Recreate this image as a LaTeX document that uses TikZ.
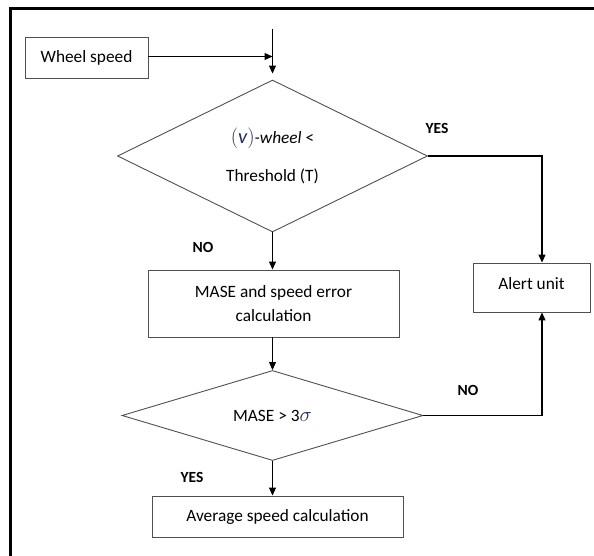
\documentclass[tikz,border=0pt]{standalone}
\usepackage{fontspec}
\setmainfont{Carlito}
\usepackage{xcolor}
\usetikzlibrary{arrows.meta,shapes.geometric}
\definecolor{edge}{HTML}{505050}
\definecolor{mathblue}{HTML}{1F2D5A}
\tikzset{
  >={Triangle[length=8pt,width=7pt]},
  flow/.style={->,black,line width=1.1pt},
  box/.style={draw=edge,line width=0.9pt,rectangle,inner sep=0pt,align=center,
    font=\fontsize{17.3}{24}\selectfont},
  test/.style={draw=edge,line width=0.9pt,diamond,inner sep=0pt,align=center,
    font=\fontsize{17.3}{24}\selectfont},
  answer/.style={font=\fontsize{15.5}{17}\selectfont\bfseries},
}
\newcommand{\mathbig}[1]{{\color{mathblue}\fontsize{20.5}{24}\selectfont$#1$}}
\newcommand{\vwheel}{\mathbig{(\mathit{v})}\textit{-wheel} <}
\begin{document}
\begin{tikzpicture}[x=1pt,y=-1pt]
\useasboundingbox (0,0) rectangle (594,556);
% frame, clipped at right and bottom
\draw[black,line width=2.4pt] (594,8.5) -- (10.5,8.5) -- (10.5,556);
\node[box,minimum width=123pt,minimum height=41pt] (wheel) at (86.5,58.3) {Wheel speed};
\coordinate (start) at (272.5,29);
\node[test,minimum width=310pt,minimum height=152pt] (thr) at (272.5,156)
  {\vwheel\\[14pt]Threshold (T)};
\node[box,minimum width=251pt,minimum height=67pt] (mase) at (273.5,303.5)
  {MASE and speed error\\calculation};
\node[test,minimum width=301pt,minimum height=87pt] (sig) at (272.5,415.5)
  {MASE > 3\mathbig{\sigma}};
\node[box,minimum width=251pt,minimum height=41pt] (avg) at (277.5,516.5)
  {Average speed calculation};
\node[box,minimum width=117pt,minimum height=49pt,text depth=9pt] (alert) at (531.5,287.5)
  {Alert unit};
\coordinate (rail) at (542,0);
% connectors
\draw[flow,shorten >=6pt] (start) -- (start |- thr.north);
\draw[flow] (wheel.east |- 0,56.5) -- (start |- 0,56.5);
\draw[flow] (thr.south) -- (thr.south |- mase.north);
\draw[flow] (sig.north |- mase.south) -- (sig.north);
\draw[flow] (sig.south) -- (sig.south |- avg.north);
\draw[flow] (thr.east) -| (rail |- alert.north);
\draw[flow] (sig.east) -| (rail |- alert.south);
% labels
\node[answer] (yes1) at (437,128) {YES};
\node[answer] (no1) at (203,247) {NO};
\node[answer] (no2) at (468,390) {NO};
\node[answer] (yes2) at (192,477) {YES};
\end{tikzpicture}
\end{document}
